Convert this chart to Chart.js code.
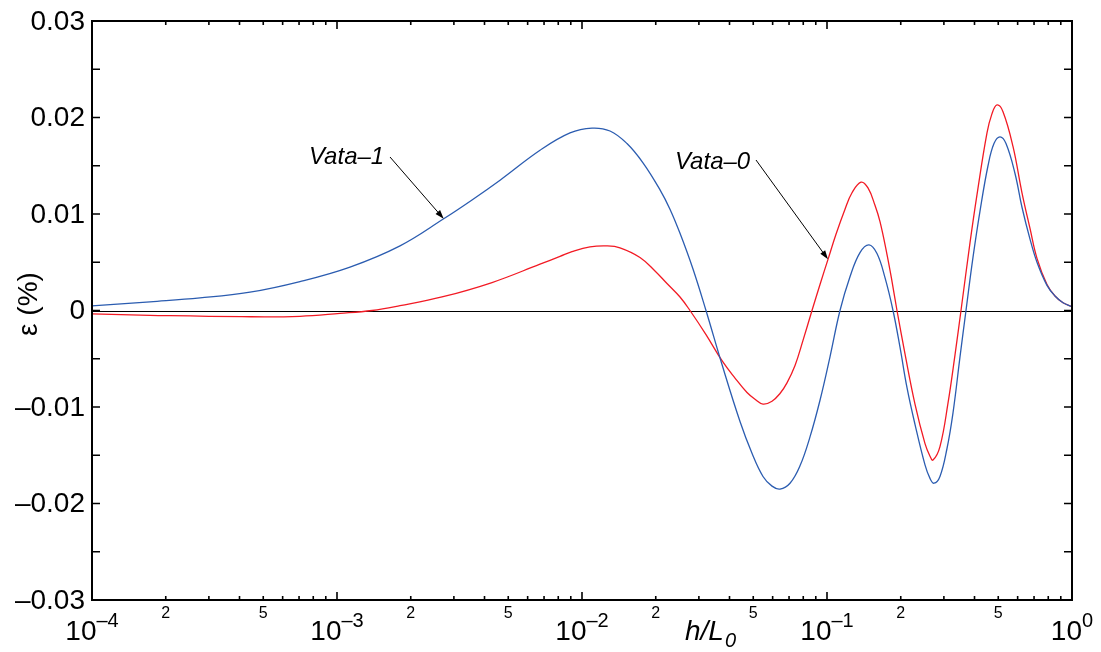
<!DOCTYPE html>
<html><head><meta charset="utf-8">
<script src="https://cdn.jsdelivr.net/npm/chart.js@4.4.0/dist/chart.umd.min.js"></script>
<style>html,body{margin:0;padding:0;background:#fff;}#wrap{width:1101px;height:652px;position:relative;}</style>
</head><body><div id="wrap"><canvas id="c" width="1101" height="652"></canvas></div>
<script>
// Vata-1 (blue)
const blueX = [1e-4,1.725e-4,2.76e-4,4.415e-4,7.06e-4,1.130e-3,1.808e-3,2.726e-3,3.557e-3,4.629e-3,6.739e-3,8.934e-3,1.0985e-2,1.301e-2,1.526e-2,1.774e-2,2.082e-2,2.286e-2,2.512e-2,2.838e-2,3.207e-2,3.728e-2,4.415e-2,4.941e-2,5.480e-2,5.964e-2,6.430e-2,7.063e-2,7.758e-2,8.523e-2,9.364e-2,0.10286,0.11299,0.12412,0.13635,0.14840,0.15998,0.17247,0.18597,0.19857,0.21210,0.22862,0.25119,0.26327,0.27335,0.28914,0.30886,0.32682,0.34902,0.36926,0.39434,0.42120,0.45409,0.48036,0.50831,0.53778,0.58524,0.62498,0.6739,0.71967,0.79053,0.85227,0.9192,1.0];
const blueY = [0.00047,0.0009,0.0013,0.0019,0.0030,0.0045,0.0067,0.0095,0.01145,0.0135,0.0166,0.0184,0.0189,0.0186,0.0173,0.0153,0.0125,0.0105,0.0080,0.0043,0,-0.0056,-0.0115,-0.0148,-0.0172,-0.0182,-0.0185,-0.0179,-0.0161,-0.0131,-0.0093,-0.0048,0,0.0035,0.0060,0.0068,0.0059,0.0034,0,-0.0038,-0.0080,-0.0118,-0.0160,-0.0174,-0.0179,-0.0172,-0.0143,-0.0106,-0.0048,0,0.0055,0.0103,0.0150,0.0173,0.0180,0.0173,0.0142,0.0107,0.0074,0.0050,0.0026,0.0015,0.0008,0.0004];
// Vata-0 (red)
const redX = [1e-4,1.725e-4,4.095e-4,7.06e-4,1.0286e-3,1.390e-3,1.808e-3,2.683e-3,4.292e-3,6.739e-3,8.132e-3,9.101e-3,1.0781e-2,1.265e-2,1.429e-2,1.7247e-2,1.9857e-2,2.223e-2,2.512e-2,2.7594e-2,3.207e-2,3.728e-2,4.212e-2,4.715e-2,5.0831e-2,5.480e-2,5.964e-2,6.430e-2,6.866e-2,7.404e-2,7.981e-2,8.684e-2,9.364e-2,0.10094,0.10882,0.11844,0.12648,0.13764,0.14700,0.15698,0.16456,0.17577,0.18428,0.19306,0.20815,0.22862,0.25119,0.26327,0.27081,0.28914,0.31178,0.33302,0.35231,0.38337,0.40950,0.44983,0.47152,0.49414,0.52284,0.57427,0.62498,0.6739,0.71967,0.79053,0.85227,0.9192,1.0];
const redY = [-0.00036,-0.0005,-0.00064,-0.0006,-0.0003,0,0.0005,0.0014,0.0029,0.0048,0.0056,0.0061,0.0066,0.0067,0.0065,0.0055,0.0041,0.0028,0.0014,0,-0.0025,-0.0052,-0.0070,-0.0085,-0.0092,-0.0097,-0.0094,-0.0086,-0.0075,-0.0057,-0.0031,0,0.0027,0.0053,0.0079,0.0105,0.0122,0.0133,0.0127,0.0109,0.0092,0.0058,0.0030,0,-0.0045,-0.0097,-0.0138,-0.0151,-0.0155,-0.0141,-0.0096,-0.0046,0,0.0070,0.0120,0.0184,0.0204,0.0213,0.0206,0.0170,0.0122,0.0085,0.0054,0.0027,0.0015,0.0008,0.0004];

const yTickValues = [0.03,0.02,0.01,0,-0.01,-0.02,-0.03];
const yTickLabels = ['0.03','0.02','0.01','0','–0.01','–0.02','–0.03'];
const xDecades = [1e-4,1e-3,1e-2,1e-1,1];
const xDecadeExp = ['–4','–3','–2','–1','0'];
const xMinorLabelValues = [2e-4,5e-4,2e-3,5e-3,2e-2,5e-2,2e-1,5e-1];
const xMinorLabels = ['2','5','2','5','2','5','2','5'];
const annotations = [
  {text:'Vata–1', tx:309, ty:164, sx:390, sy:157, x:2.726e-3, y:0.0095},
  {text:'Vata–0', tx:675, ty:169, sx:756, sy:160, x:0.10094, y:0.0053}
];

const F = '"Liberation Sans", Arial, sans-serif';

const deco = {
  id:'deco',
  beforeDatasetsDraw(chart){
    const {ctx, chartArea:a, scales:{y}} = chart;
    const y0 = Math.round(y.getPixelForValue(0))+0.5;
    ctx.save();
    ctx.strokeStyle='#000'; ctx.lineWidth=1;
    ctx.beginPath(); ctx.moveTo(a.left,y0); ctx.lineTo(a.right,y0); ctx.stroke();
    ctx.restore();
  },
  afterDraw(chart){
    const {ctx, chartArea:a, scales:{x,y}} = chart;
    ctx.save();
    ctx.strokeStyle='#000'; ctx.fillStyle='#000';
    ctx.lineWidth=1.6;
    ctx.beginPath();
    for(let v=-0.03; v<=0.0301; v+=0.005){
      const py = y.getPixelForValue(v);
      ctx.moveTo(a.left,py); ctx.lineTo(a.left+8,py);
      ctx.moveTo(a.right,py); ctx.lineTo(a.right-8,py);
    }
    for(let d=-4; d<=0; d++){
      for(let k=1; k<=9; k++){
        const v = k*Math.pow(10,d);
        if(v>1.0000001) break;
        const px = x.getPixelForValue(v);
        const len = k===1?8:4;
        ctx.moveTo(px,a.bottom); ctx.lineTo(px,a.bottom-len);
        ctx.moveTo(px,a.top); ctx.lineTo(px,a.top+len);
      }
    }
    ctx.stroke();
    ctx.lineWidth=2;
    ctx.strokeRect(a.left,a.top,a.right-a.left,a.bottom-a.top);
    ctx.font='28px '+F; ctx.textAlign='right'; ctx.textBaseline='middle';
    yTickValues.forEach((v,i)=>{ ctx.fillText(yTickLabels[i], a.left-7, y.getPixelForValue(v)+1); });
    ctx.textBaseline='alphabetic';
    xDecades.forEach((v,i)=>{
      const px = x.getPixelForValue(v);
      ctx.font='28px '+F; const w1 = ctx.measureText('10').width;
      ctx.font='20px '+F; const w2 = ctx.measureText(xDecadeExp[i]).width;
      const left = px-(w1+w2)/2;
      ctx.textAlign='left';
      ctx.font='28px '+F; ctx.fillText('10', left, 640);
      ctx.font='20px '+F; ctx.fillText(xDecadeExp[i], left+w1, 627);
    });
    ctx.font='16px '+F; ctx.textAlign='center';
    xMinorLabelValues.forEach((v,i)=>{ ctx.fillText(xMinorLabels[i], x.getPixelForValue(v), 618); });
    ctx.textAlign='left';
    ctx.font='italic 28px '+F; ctx.fillText('h/L', 685, 640);
    const wt = ctx.measureText('h/L').width;
    ctx.font='italic 20px '+F; ctx.fillText('0', 685+wt+1, 647);
    ctx.save();
    ctx.translate(29, 304); ctx.rotate(-Math.PI/2);
    ctx.font='28px '+F; ctx.textAlign='center'; ctx.textBaseline='middle';
    ctx.fillText('ε (%)', 0, 0);
    ctx.restore();
    annotations.forEach(an=>{
      ctx.font='italic 24px '+F; ctx.textAlign='left'; ctx.textBaseline='alphabetic';
      ctx.fillText(an.text, an.tx, an.ty);
      const ex = x.getPixelForValue(an.x), ey = y.getPixelForValue(an.y);
      const ang = Math.atan2(ey-an.sy, ex-an.sx);
      ctx.lineWidth=1;
      ctx.beginPath(); ctx.moveTo(an.sx,an.sy); ctx.lineTo(ex-7*Math.cos(ang), ey-7*Math.sin(ang)); ctx.stroke();
      ctx.beginPath();
      ctx.moveTo(ex,ey);
      ctx.lineTo(ex-9*Math.cos(ang)+3*Math.sin(ang), ey-9*Math.sin(ang)-3*Math.cos(ang));
      ctx.lineTo(ex-9*Math.cos(ang)-3*Math.sin(ang), ey-9*Math.sin(ang)+3*Math.cos(ang));
      ctx.closePath(); ctx.fill();
    });
    ctx.restore();
  }
};

new Chart(document.getElementById('c'), {
  type:'line',
  data:{datasets:[
    {label:'Vata-1', data:blueX.map((v,i)=>({x:v,y:blueY[i]})), borderColor:'#2b5cb0', borderWidth:1.3, pointRadius:0, fill:false, tension:0.4},
    {label:'Vata-0', data:redX.map((v,i)=>({x:v,y:redY[i]})), borderColor:'#f21a24', borderWidth:1.3, pointRadius:0, fill:false, tension:0.4}
  ]},
  options:{
    responsive:false, animation:false,
    layout:{padding:{left:92, top:21, right:29, bottom:52}},
    plugins:{legend:{display:false}, tooltip:{enabled:false}},
    scales:{
      x:{type:'logarithmic', min:1e-4, max:1, display:false},
      y:{type:'linear', min:-0.03, max:0.03, display:false}
    }
  },
  plugins:[deco]
});
</script></body></html>
